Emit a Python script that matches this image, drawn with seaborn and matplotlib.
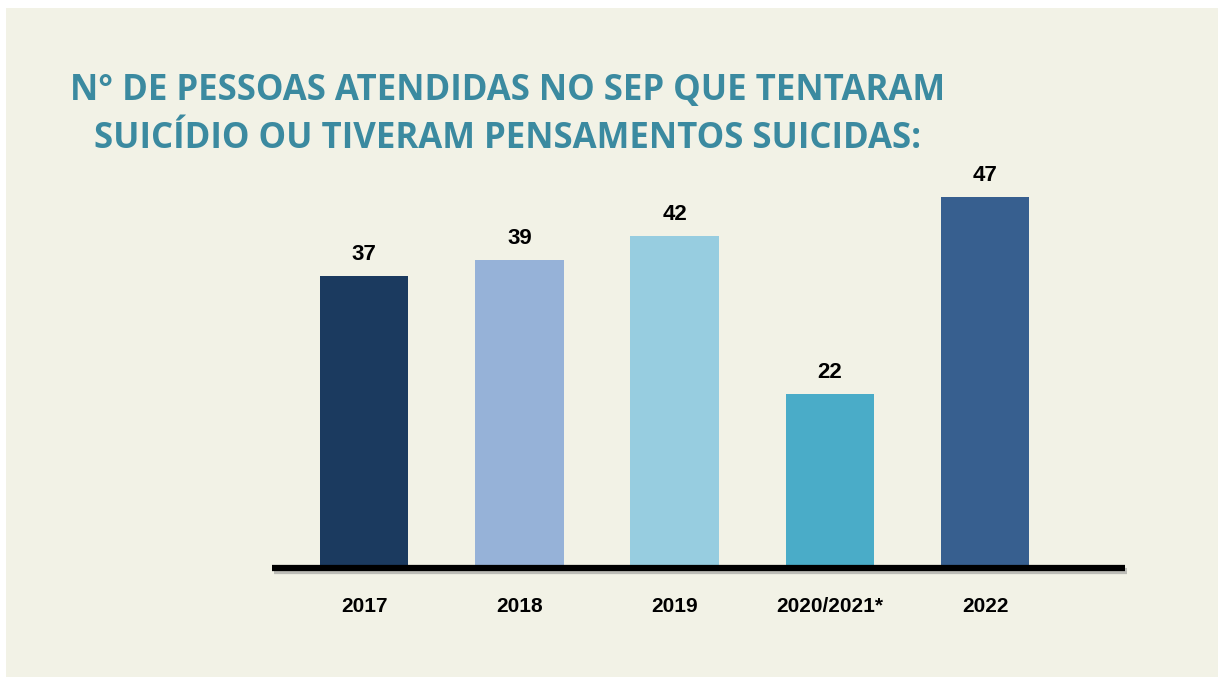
import pandas as pd
import seaborn as sns
import matplotlib.pyplot as plt
import matplotlib.patheffects as pe
from matplotlib.patches import Rectangle
from matplotlib import font_manager

# dados
anos = ['2017', '2018', '2019', '2020/2021*', '2022']
pessoas = [37, 39, 42, 22, 47]
cores = ['#1b3a5f', '#96b2d8', '#97cde0', '#4aacc8', '#375f8f']

titulo = 'N° DE PESSOAS ATENDIDAS NO SEP QUE TENTARAM\nSUICÍDIO OU TIVERAM PENSAMENTOS SUICIDAS:'

nomes = {f.name for f in font_manager.fontManager.ttflist}
fonte_eixo = 'Liberation Sans Narrow' if 'Liberation Sans Narrow' in nomes else 'Liberation Sans'

df = pd.DataFrame({'ano': anos, 'pessoas': pessoas})

sns.set_style('white')
plt.rcParams['font.family'] = ['Liberation Sans', 'DejaVu Sans']

fig = plt.figure(figsize=(12.18, 6.79), dpi=100)
fig.patch.set_facecolor('white')
fig.patches.append(Rectangle((6 / 1218, 2 / 679), 1 - 6 / 1218, 669 / 679,
                             transform=fig.transFigure, facecolor='#f2f2e6',
                             edgecolor='none', zorder=-5))

# eixo: base em y=568px, 47 em y=197px
base = 568
topo = 160
ax = fig.add_axes([272 / 1218, 1 - base / 679, (1125 - 272) / 1218, (base - topo) / 679])
ax.set_facecolor('none')
ax.set_zorder(2)

sns.barplot(data=df, x='ano', y='pessoas', hue='ano', palette=cores,
            legend=False, width=0.57, saturation=1, linewidth=0, ax=ax)

ax.set_xlim(-0.593, 4.90)
ax.set_ylim(0, 47 * (base - topo) / (base - 197))

for i, v in enumerate(pessoas):
    ax.annotate(str(v), (i, v), xytext=(0, 8), textcoords='offset points',
                ha='center', va='bottom', fontsize=16, fontweight='bold',
                color='black')

for s in ['top', 'right', 'left']:
    ax.spines[s].set_visible(False)
ax.spines['bottom'].set_linewidth(4.5)
ax.spines['bottom'].set_color('black')
ax.spines['bottom'].set_capstyle('butt')
ax.spines['bottom'].set_path_effects([
    pe.SimpleLineShadow(offset=(1.5, -2), shadow_color='#888888', alpha=0.5),
    pe.Normal()])
ax.spines['bottom'].set_zorder(3)

ax.set_yticks([])
ax.set_xlabel('')
ax.set_ylabel('')
ax.tick_params(axis='x', length=0, pad=21)
for lbl in ax.get_xticklabels():
    lbl.set_fontfamily(fonte_eixo)
    lbl.set_fontweight('bold')
    lbl.set_fontsize(15)
    lbl.set_color('black')

fig.text(508 / 1218, 1 - 148 / 679, titulo, ha='center', va='baseline',
         multialignment='center', fontsize=25, fontweight='bold',
         color='#3b8aa0', family=['Open Sans', 'DejaVu Sans'], linespacing=1.45)

fig.savefig('out.png', dpi=100)
